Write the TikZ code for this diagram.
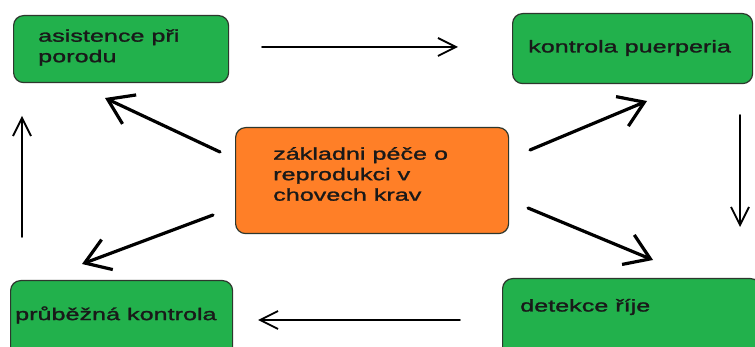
\documentclass[tikz,border=0pt]{standalone}
\usepackage{fontspec}
\setmainfont{Liberation Sans}[FakeStretch=1.48,FakeBold=1.5]
\usetikzlibrary{arrows.meta}
\definecolor{boxgreen}{RGB}{34,177,76}
\definecolor{boxorange}{RGB}{255,127,39}
\definecolor{boxedge}{RGB}{45,55,45}
\begin{document}
\begin{tikzpicture}[x=1pt,y=-1pt,
  box/.style={draw=boxedge, line width=1.2pt, rounded corners=10pt, anchor=north west, inner sep=0pt},
  lbl/.style={anchor=west, inner sep=0pt, align=left, font=\fontsize{17}{20.5}\selectfont, text=black!90},
  thinarrow/.style={line width=1.8pt, line cap=round, -{Straight Barb[length=18pt,width=18pt,line width=1.8pt]}},
  thickarrow/.style={line width=3.2pt, line cap=round, -{Straight Barb[length=24pt,width=32pt,line width=3.2pt]}}]
\useasboundingbox (0,0) rectangle (755,347);
\clip (0,0) rectangle (755,347);
\fill[white] (0,0) rectangle (755,347);
% boxes
\node[box, fill=boxgreen, minimum width=215pt, minimum height=67pt] (b1) at (13,15) {};
\node[box, fill=boxgreen, minimum width=240pt, minimum height=70pt] (b2) at (512,13) {};
\node[box, fill=boxorange, minimum width=273pt, minimum height=106pt] (b3) at (235,127) {};
\node[box, fill=boxgreen, minimum width=222pt, minimum height=90pt] (b4) at (10,280) {};
\node[box, fill=boxgreen, minimum width=258pt, minimum height=90pt] (b5) at (502,278) {};
% labels
\node[lbl] (t1) at (38,47.5) {asistence při\\porodu};
\node[lbl] (t2) at (528,48) {kontrola puerperia};
\node[lbl] (t3) at (273,174) {základni péče o\\reprodukci v\\chovech krav};
\node[lbl] (t4) at (15,315) {průběžná kontrola};
\node[lbl] (t5) at (520,307) {detekce říje};
% arrow end points
\coordinate (h1s) at (262,47);  \coordinate (h1e) at (458,47);
\coordinate (h2s) at (460,320); \coordinate (h2e) at (258,320);
\coordinate (v1s) at (22,237);  \coordinate (v1e) at (22,116);
\coordinate (v2s) at (740,115); \coordinate (v2e) at (740,227);
\coordinate (d1s) at (220,152); \coordinate (d1e) at (105,98);
\coordinate (d2s) at (213,215); \coordinate (d2e) at (82,264);
\coordinate (d3s) at (530,150); \coordinate (d3e) at (647,101);
\coordinate (d4s) at (528,208); \coordinate (d4e) at (653,260);
% arrows
\draw[thinarrow] (h1s) -- (h1e);
\draw[thinarrow] (h2s) -- (h2e);
\draw[thinarrow] (v1s) -- (v1e);
\draw[thinarrow] (v2s) -- (v2e);
\draw[thickarrow] (d1s) -- (d1e);
\draw[thickarrow] (d2s) -- (d2e);
\draw[thickarrow] (d3s) -- (d3e);
\draw[thickarrow] (d4s) -- (d4e);
\end{tikzpicture}
\end{document}
